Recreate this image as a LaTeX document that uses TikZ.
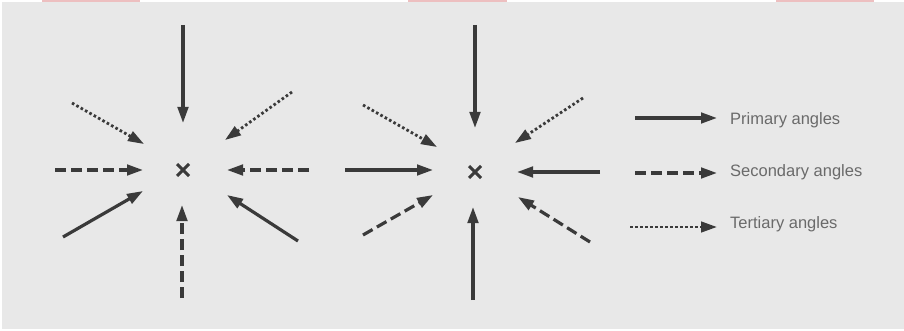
\documentclass[tikz,border=0pt]{standalone}
\usepackage{fontspec}
\setmainfont{Liberation Sans}
\usetikzlibrary{arrows.meta,shapes.misc}
\definecolor{bg}{HTML}{E8E8E8}
\definecolor{ink}{HTML}{3A3A3A}
\definecolor{txt}{HTML}{6A6A6A}
\definecolor{pinkbar}{HTML}{EDBFC0}
\begin{document}
\begin{tikzpicture}[x=1pt,y=-1pt,
  ray/.style={draw=ink, line width=3.2pt, -{Triangle[length=16pt,width=10.5pt]}},
  prim/.style={ray},
  sec/.style={ray, dash pattern=on 11pt off 5pt},
  ter/.style={ray, line width=2.8pt, dash pattern=on 2.6pt off 2.4pt},
  crossmark/.style={cross out, draw=ink, line width=3pt, minimum size=9pt, inner sep=0pt},
  lbl/.style={text=txt, font=\fontsize{16.5}{20}\selectfont, anchor=west, inner sep=0pt}]
\useasboundingbox (0,0) rectangle (904,331);
\fill[white] (0,0) rectangle (904,331);
\fill[bg] (2,2.5) rectangle (904,329);
\fill[pinkbar] (42,0) rectangle (140,2);
\fill[pinkbar] (408,0) rectangle (507,2);
\fill[pinkbar] (776,0) rectangle (874,2);

% ---- left diagram
\node[crossmark] (cL) at (183,170) {};
\coordinate (L1s) at (183,25);  \coordinate (L1e) at (183,123);
\coordinate (L2s) at (72,103);  \coordinate (L2e) at (144,144);
\coordinate (L3s) at (292,92);  \coordinate (L3e) at (225,140);
\coordinate (L4s) at (55,170);  \coordinate (L4e) at (143,170);
\coordinate (L5s) at (309,170); \coordinate (L5e) at (227,170);
\coordinate (L6s) at (63,237);  \coordinate (L6e) at (143,191);
\coordinate (L7s) at (298,241); \coordinate (L7e) at (227,195);
\coordinate (L8s) at (182,298); \coordinate (L8e) at (182,205);
\draw[prim] (L1s) -- (L1e);
\draw[ter]  (L2s) -- (L2e);
\draw[ter]  (L3s) -- (L3e);
\draw[sec]  (L4s) -- (L4e);
\draw[sec]  (L5s) -- (L5e);
\draw[prim] (L6s) -- (L6e);
\draw[prim] (L7s) -- (L7e);
\draw[sec]  (L8s) -- (L8e);

% ---- right diagram
\node[crossmark] (cR) at (475,172) {};
\coordinate (R1s) at (475,25);  \coordinate (R1e) at (475,128);
\coordinate (R2s) at (363,105); \coordinate (R2e) at (437,147);
\coordinate (R3s) at (583,98);  \coordinate (R3e) at (515,143);
\coordinate (R4s) at (345,170); \coordinate (R4e) at (433,170);
\coordinate (R5s) at (600,172); \coordinate (R5e) at (517,172);
\coordinate (R6s) at (363,235); \coordinate (R6e) at (433,195);
\coordinate (R7s) at (590,242); \coordinate (R7e) at (518,197);
\coordinate (R8s) at (473,300); \coordinate (R8e) at (473,207);
\draw[prim] (R1s) -- (R1e);
\draw[ter]  (R2s) -- (R2e);
\draw[ter]  (R3s) -- (R3e);
\draw[prim] (R4s) -- (R4e);
\draw[prim] (R5s) -- (R5e);
\draw[sec]  (R6s) -- (R6e);
\draw[sec]  (R7s) -- (R7e);
\draw[prim] (R8s) -- (R8e);

% ---- legend
\coordinate (P1) at (635,118); \coordinate (P2) at (717,118);
\coordinate (S1) at (635,173); \coordinate (S2) at (717,173);
\coordinate (T1) at (630,227); \coordinate (T2) at (717,227);
\draw[prim] (P1) -- (P2);
\draw[sec]  (S1) -- (S2);
\draw[ter]  (T1) -- (T2);
\node[lbl] (pl) at (730,120) {Primary angles};
\node[lbl] (sl) at (730,172) {Secondary angles};
\node[lbl] (tl) at (730,224) {Tertiary angles};
\end{tikzpicture}
\end{document}
